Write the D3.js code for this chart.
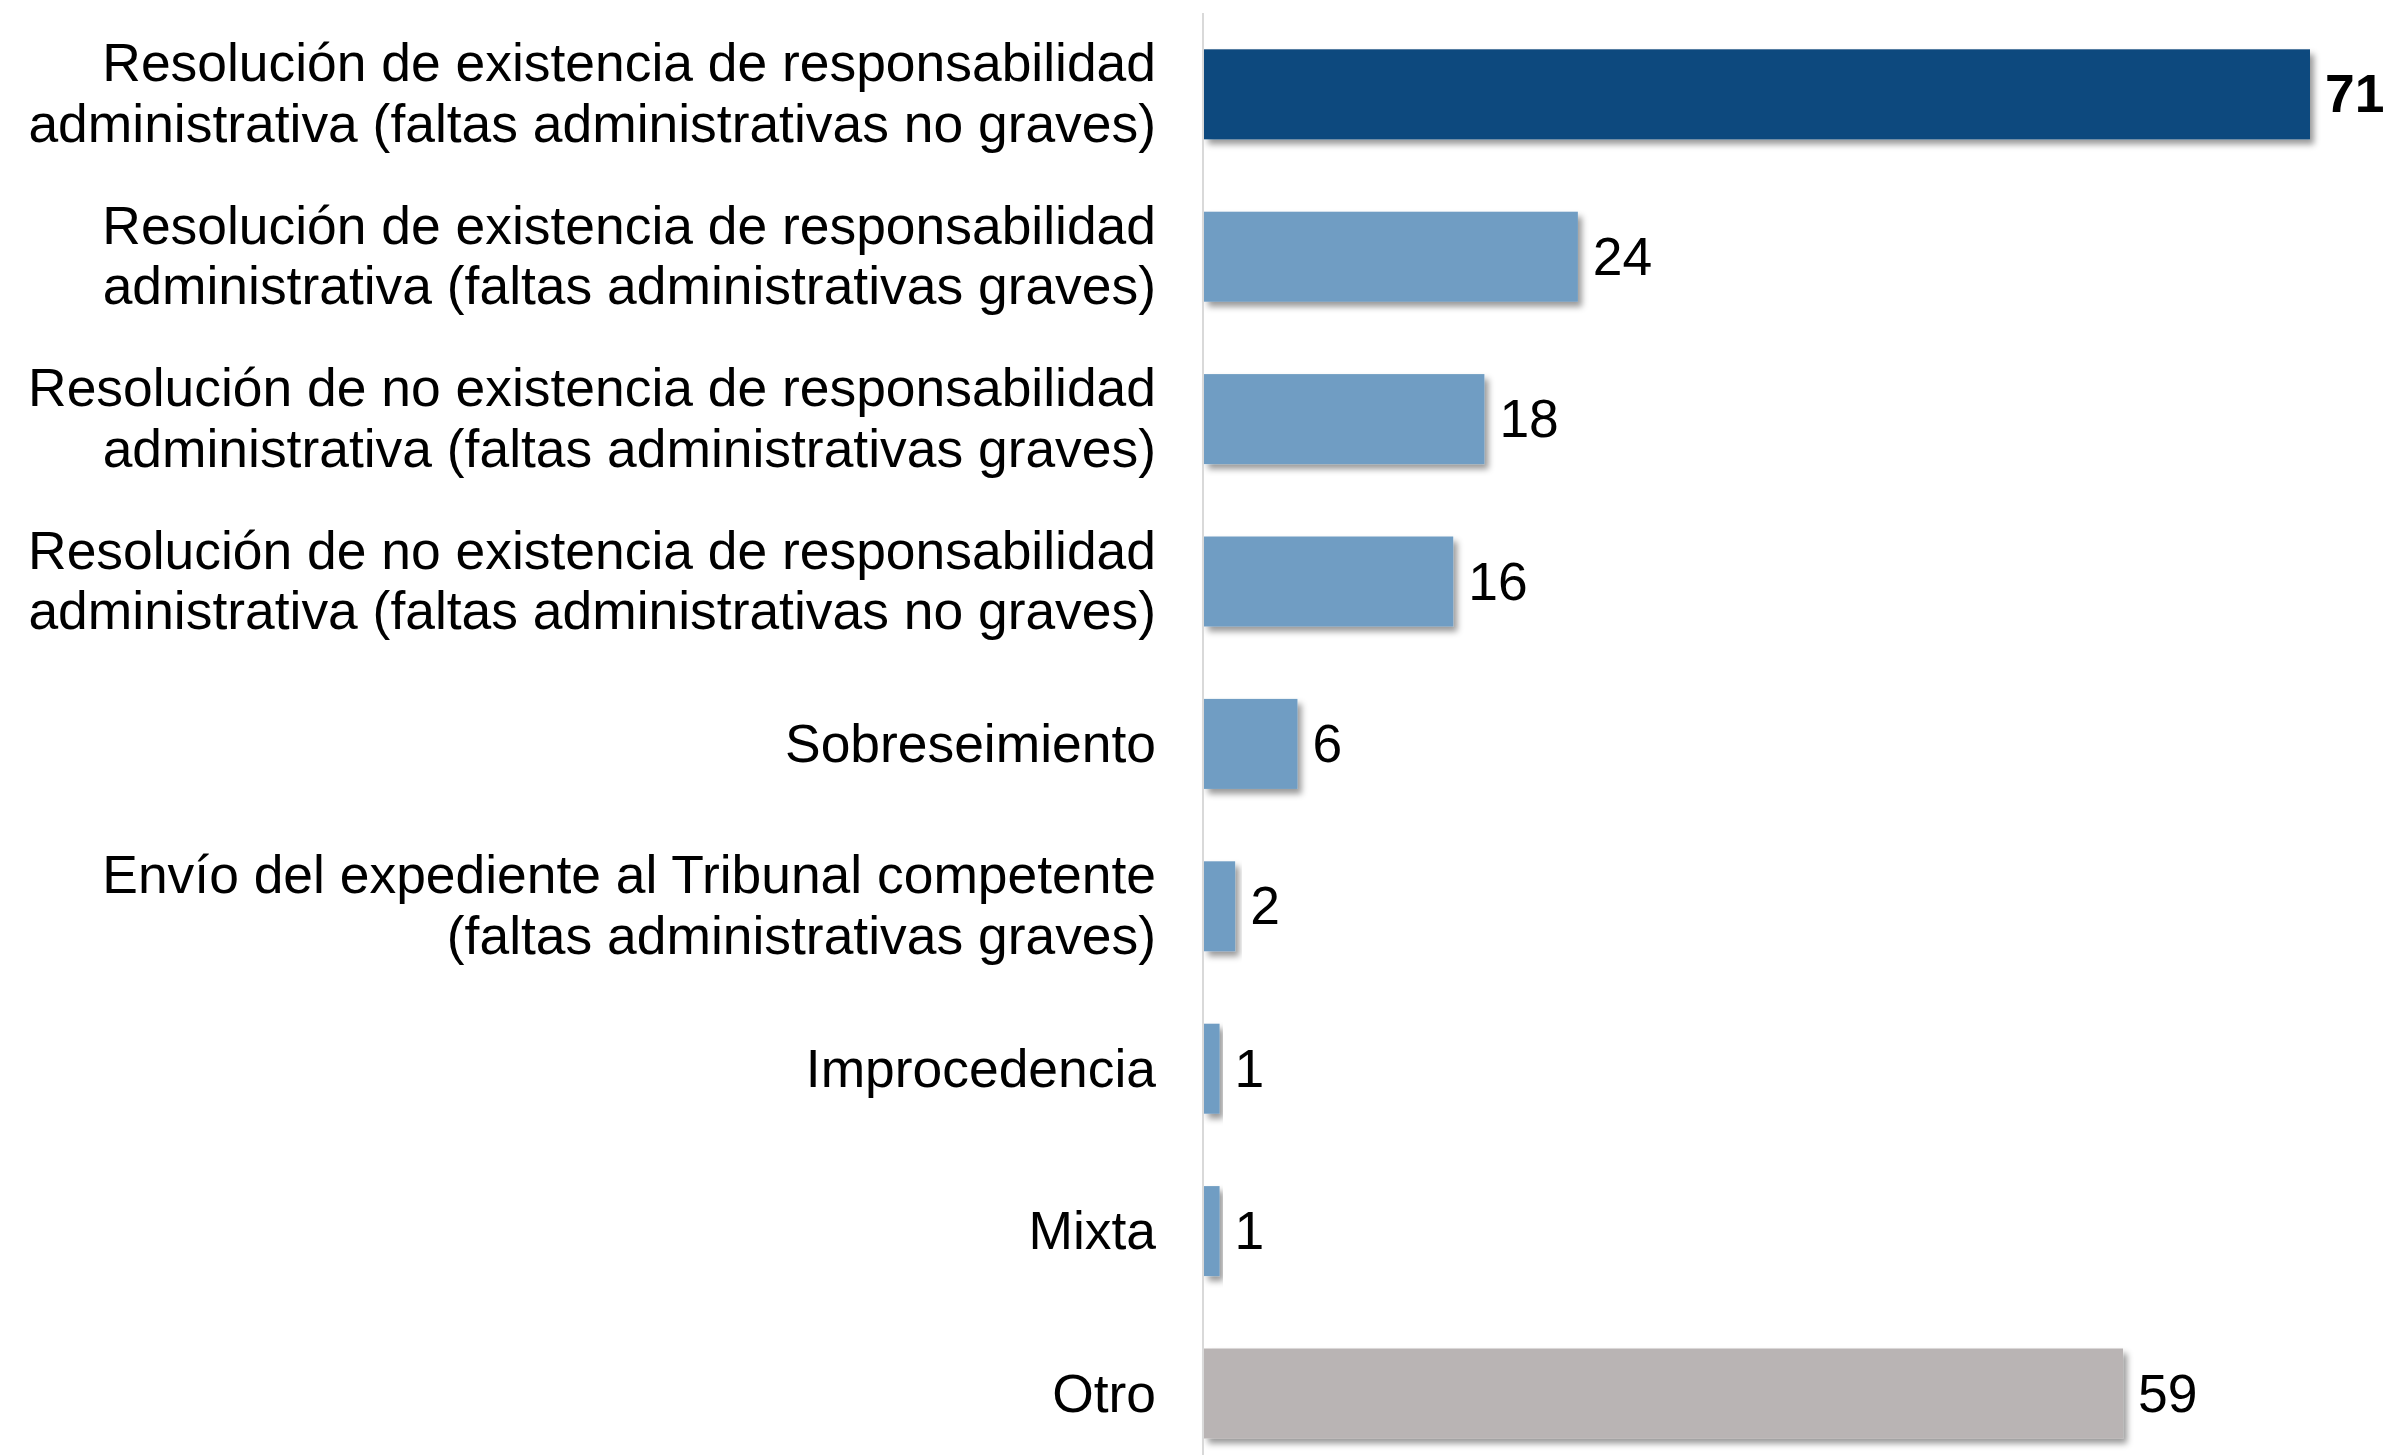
<!DOCTYPE html>
<html>
<head>
<meta charset="utf-8">
<style>
  body { margin: 0; background: #fff; }
  svg { display: block; }
</style>
</head>
<body>
<svg width="2387" height="1455" font-family="'Liberation Sans', Arial, sans-serif"></svg>
<script src="https://d3js.org/d3.v7.min.js"></script>
<script>

// data
var categories = [
  ["Resolución de existencia de responsabilidad", "administrativa (faltas administrativas no graves)"],
  ["Resolución de existencia de responsabilidad", "administrativa (faltas administrativas graves)"],
  ["Resolución de no existencia de responsabilidad", "administrativa (faltas administrativas graves)"],
  ["Resolución de no existencia de responsabilidad", "administrativa (faltas administrativas no graves)"],
  ["Sobreseimiento"],
  ["Envío del expediente al Tribunal competente", "(faltas administrativas graves)"],
  ["Improcedencia"],
  ["Mixta"],
  ["Otro"]
];
var values = [71, 24, 18, 16, 6, 2, 1, 1, 59];
var barKinds = ["top", "mid", "mid", "mid", "mid", "mid", "mid", "mid", "other"];

var colors = { top: "#0b4a7e", mid: "#709dc3", other: "#b9b4b4" };

var svg = d3.select("svg"),
    width = +svg.attr("width"),
    height = +svg.attr("height");

var fontSize = 53.4;

var rows = values.map(function(v, i) {
  return { key: i, value: v, lines: categories[i], kind: barKinds[i] };
});

var x = d3.scaleLinear()
    .domain([0, 71])
    .range([1204, 2310]);

var y = d3.scaleBand()
    .domain(rows.map(function(d) { return d.key; }))
    .range([13.1, 1474.7])
    .paddingInner(0.4458)
    .paddingOuter(0.2229);

var defs = svg.append("defs");
var shadow = defs.append("filter")
    .attr("id", "shadow")
    .attr("x", "-10%").attr("y", "-20%")
    .attr("width", "130%").attr("height", "160%");
shadow.append("feDropShadow")
    .attr("dx", 4).attr("dy", 5)
    .attr("stdDeviation", 3)
    .attr("flood-color", "#000")
    .attr("flood-opacity", 0.4);

// bars
svg.selectAll(".bar")
  .data(rows)
  .enter().append("rect")
    .attr("class", "bar")
    .attr("x", x(0))
    .attr("y", function(d) { return y(d.key); })
    .attr("width", function(d) { return x(d.value) - x(0); })
    .attr("height", y.bandwidth())
    .attr("fill", function(d) { return colors[d.kind]; })
    .attr("filter", "url(#shadow)");

// axis line
svg.append("line")
    .attr("x1", x(0) - 1).attr("x2", x(0) - 1)
    .attr("y1", 13).attr("y2", height)
    .attr("stroke", "#d9d9d9")
    .attr("stroke-width", 2);

// value labels
svg.selectAll(".val")
  .data(rows)
  .enter().append("text")
    .attr("class", "val")
    .attr("x", function(d) { return x(d.value) + 15; })
    .attr("y", function(d) { return y(d.key) + y.bandwidth() / 2 + 18; })
    .attr("font-size", fontSize)
    .attr("font-weight", function(d) { return d.kind == "top" ? "bold" : "normal"; })
    .attr("fill", "#000")
    .text(function(d) { return d.value; });

// category labels
var lab = svg.selectAll(".lab")
  .data(rows)
  .enter().append("text")
    .attr("class", "lab")
    .attr("text-anchor", "end")
    .attr("font-size", fontSize)
    .attr("fill", "#000");

lab.each(function(d) {
  var c = y(d.key) + y.bandwidth() / 2;
  var t = d3.select(this);
  if (d.lines.length == 1) {
    t.append("tspan").attr("x", 1156).attr("y", c + 18).text(d.lines[0]);
  } else {
    t.append("tspan").attr("x", 1156).attr("y", c - 13).text(d.lines[0]);
    t.append("tspan").attr("x", 1156).attr("y", c + 47.5).text(d.lines[1]);
  }
});

</script>
</body>
</html>
